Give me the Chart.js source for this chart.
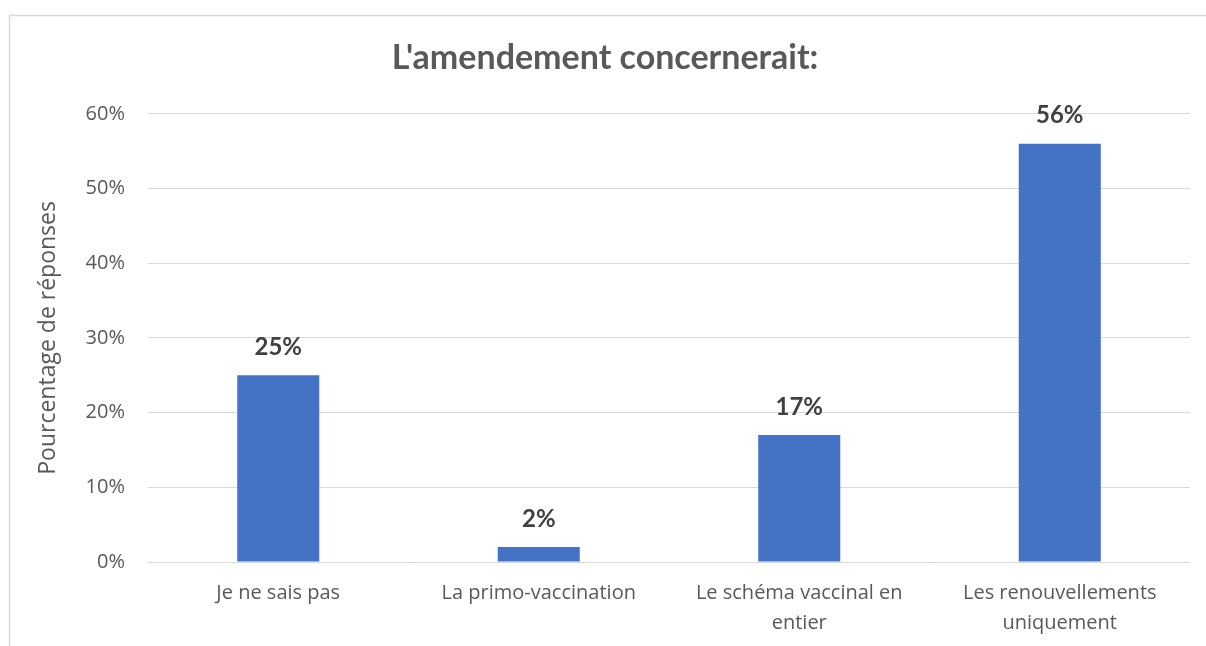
<!DOCTYPE html>
<html>
<head>
<meta charset="utf-8">
<script src="https://cdn.jsdelivr.net/npm/chart.js@4/dist/chart.umd.min.js"></script>
<style>
html,body{margin:0;padding:0;background:#fff;}
#wrap{position:relative;width:1206px;height:646px;}
</style>
</head>
<body>
<div id="wrap"><canvas id="c" width="1206" height="646"></canvas></div>
<script>
const categories = [["Je ne sais pas"], ["La primo-vaccination"], ["Le schéma vaccinal en", "entier"], ["Les renouvellements", "uniquement"]];
const values = [25, 2, 17, 56];
const yTicks = [0, 10, 20, 30, 40, 50, 60];
const titleText = "L'amendement concernerait:";
const yAxisTitle = "Pourcentage de réponses";

const FONT = "'Open Sans', sans-serif";
const TFONT = "Lato, 'Open Sans', sans-serif";

const framePlugin = {
  id: 'frame',
  beforeDraw(chart) {
    const ctx = chart.ctx;
    ctx.save();
    ctx.fillStyle = '#fff';
    ctx.fillRect(0, 0, chart.width, chart.height);
    ctx.strokeStyle = '#d9d9d9';
    ctx.lineWidth = 1.5;
    ctx.strokeRect(9.5, 15.5, 1400, 900);
    ctx.restore();
  }
};

const labelPlugin = {
  id: 'barLabels',
  afterDatasetsDraw(chart) {
    const ctx = chart.ctx;
    const meta = chart.getDatasetMeta(0);
    ctx.save();
    ctx.font = "bold 24px " + TFONT;
    ctx.fillStyle = '#404040';
    ctx.textAlign = 'center';
    ctx.textBaseline = 'middle';
    meta.data.forEach((bar, i) => {
      ctx.fillText(values[i] + '%', bar.x, bar.y - 28);
    });
    ctx.restore();
  }
};

new Chart(document.getElementById('c'), {
  type: 'bar',
  data: {
    labels: categories,
    datasets: [{
      data: values,
      backgroundColor: '#4472C4',
      borderWidth: 0,
      categoryPercentage: 1,
      barPercentage: 0.315
    }]
  },
  options: {
    responsive: false,
    animation: false,
    devicePixelRatio: 1,
    layout: { padding: { left: 20, right: 16, top: 0, bottom: 0 } },
    plugins: {
      legend: { display: false },
      tooltip: { enabled: false },
      title: {
        display: true,
        text: titleText,
        color: '#595959',
        font: { family: TFONT, size: 34, weight: 'bold', lineHeight: 1.2 },
        padding: { top: 38, bottom: 35 }
      }
    },
    scales: {
      x: {
        grid: { display: false, drawTicks: false },
        border: { display: false },
        ticks: {
          color: '#595959',
          font: { family: FONT, size: 20, lineHeight: 1.5 },
          padding: 16,
          maxRotation: 0,
          autoSkip: false
        },
        afterFit(scale) { scale.height = 84; }
      },
      y: {
        min: 0,
        max: 60,
        afterBuildTicks(scale) { scale.ticks = yTicks.map(v => ({ value: v })); },
        grid: { color: '#d9d9d9', lineWidth: 1, drawTicks: false },
        border: { display: false },
        ticks: {
          color: '#595959',
          font: { family: FONT, size: 20 },
          padding: 23,
          callback: v => v + '%'
        },
        title: {
          display: true,
          text: yAxisTitle,
          color: '#595959',
          font: { family: FONT, size: 23, lineHeight: 1.2 },
          padding: { top: 15, bottom: 0 }
        },
        afterFit(scale) { scale.width = 128; }
      }
    }
  },
  plugins: [framePlugin, labelPlugin]
});
</script>
</body>
</html>
